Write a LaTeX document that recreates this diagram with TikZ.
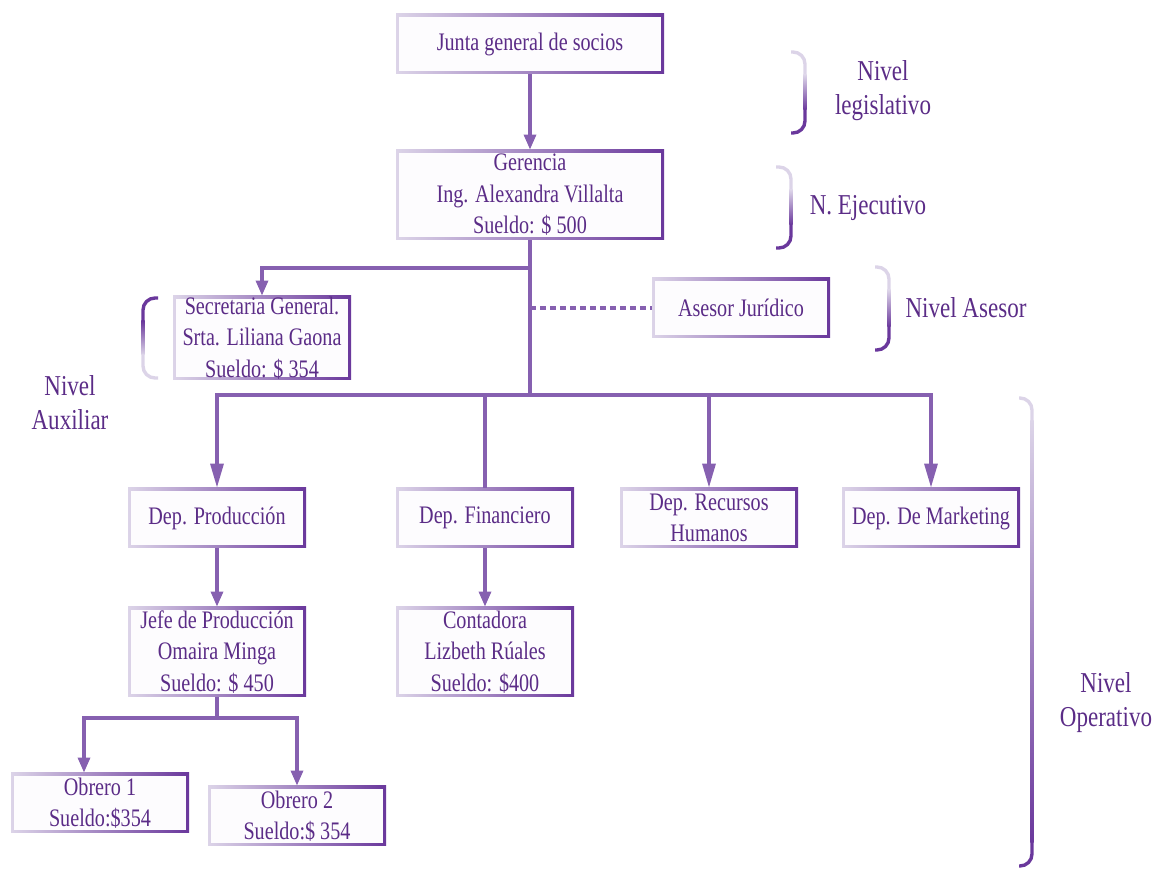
\documentclass[tikz,border=0pt]{standalone}
\usepackage{fontspec}
\setmainfont{Liberation Serif}[FakeStretch=0.8]
\definecolor{orgText}{HTML}{5B2C87}
\definecolor{orgLine}{HTML}{8660B0}
\definecolor{orgLight}{HTML}{DCD4E8}
\definecolor{orgDark}{HTML}{6A389C}
\definecolor{orgFill}{HTML}{FDFCFE}
\usetikzlibrary{arrows.meta}

% level brace: tip x, spine x, top y, bottom y, top colour, bottom colour
\newcommand{\nivelbrace}[6]{%
  \draw[brace, #5] (#1,#3) -- (#2,#3) -- (#2,#3+24);
  \shade[top color=#5, bottom color=#6] (#2-1.7,#3+23) rectangle (#2+1.7,#4-23);
  \draw[brace, #6] (#2,#4-24) -- (#2,#4) -- (#1,#4);
}

\begin{document}
\begin{tikzpicture}[x=0.5pt, y=-0.5pt,
  orgbox/.style={rectangle, minimum width=89pt, minimum height=30pt, inner sep=0pt,
    align=center, text=orgText, font=\fontsize{12.6}{15.7}\selectfont,
    path picture={
      \shade[left color=orgLight, right color=orgDark]
        (path picture bounding box.south west) rectangle (path picture bounding box.north east);
      \fill[orgFill] ([shift={(1.4pt,1.4pt)}]path picture bounding box.south west)
        rectangle ([shift={(-1.5pt,-1.4pt)}]path picture bounding box.north east);
    }},
  widebox/.style={orgbox, minimum width=134pt},
  tallbox/.style={minimum height=45pt},
  nivel/.style={align=center, text=orgText, font=\fontsize{14.4}{17}\selectfont},
  conn/.style={orgLine, line width=1.6pt},
  arr/.style={conn, -{Triangle[length=7.5pt, width=6pt]}},
  bigarr/.style={conn, -{Triangle[length=12pt, width=6.5pt]}},
  brace/.style={line width=1.7pt, rounded corners=6pt}]
  \useasboundingbox (0,0) rectangle (1158,870);

  % Top management
  \node[widebox] (junta) at (530,44) {Junta general de socios};
  \node[widebox, tallbox] (ger) at (530,195) {Gerencia\\Ing. Alexandra Villalta\\Sueldo: \$ 500};

  % Staff and advisory
  \node[orgbox, minimum height=42pt] (secr) at (262,338) {Secretaria General.\\Srta. Liliana Gaona\\Sueldo: \$ 354};
  \node[orgbox] (ases) at (741,308) {Asesor Jurídico};

  % Departments
  \node[orgbox] (dprod) at (217,518) {Dep. Producción};
  \node[orgbox] (dfin) at (485,518) {Dep. Financiero};
  \node[orgbox] (drrhh) at (709,518) {Dep. Recursos\\Humanos};
  \node[orgbox] (dmark) at (931,518) {Dep. De Marketing};

  % Staff under departments
  \node[orgbox, tallbox] (jefe) at (217,652) {Jefe de Producción\\Omaira Minga\\Sueldo: \$ 450};
  \node[orgbox, tallbox] (conta) at (485,652) {Contadora\\Lizbeth Rúales\\Sueldo: \$400};
  \node[orgbox] (obr1) at (100,803) {Obrero 1\\Sueldo:\$354};
  \node[orgbox] (obr2) at (297,816) {Obrero 2\\Sueldo:\$ 354};

  % Connectors
  \coordinate (sbus) at (530,268);
  \coordinate (dbus) at (530,395);
  \coordinate (jbus) at (217,718);
  \draw[arr] (junta) -- (ger);
  \draw[conn] (ger) -- (dbus);
  \draw[arr] (sbus) -| (secr);
  \draw[conn, dashed, dash pattern=on 3pt off 2pt] (ger.south |- ases) -- (ases);
  \draw[bigarr] (dbus) -| (dprod);
  \draw[conn] (dbus) -| (dfin);
  \draw[bigarr] (dbus) -| (drrhh);
  \draw[bigarr] (dbus) -| (dmark);
  \draw[arr] (dprod) -- (jefe);
  \draw[arr] (dfin) -- (conta);
  \draw[conn] (jefe) -- (jbus);
  \draw[arr] (jbus) -| ([xshift=-8pt]obr1.north);
  \draw[arr] (jbus) -| (obr2);

  % Level braces
  \nivelbrace{791}{805}{52}{133}{orgLight}{orgDark}
  \nivelbrace{776}{791}{167}{248}{orgLight}{orgDark}
  \nivelbrace{875}{889}{267}{350}{orgLight}{orgDark}
  \nivelbrace{158}{143}{298}{378}{orgDark}{orgLight}
  \nivelbrace{1019}{1032}{398}{866}{orgLight}{orgDark}

  % Level labels
  \node[nivel] (nlegis) at (883,91) {Nivel\\legislativo};
  \node[nivel] (nejec) at (868,208) {N. Ejecutivo};
  \node[nivel] (nases) at (966,308) {Nivel Asesor};
  \node[nivel] (naux) at (70,403) {Nivel\\Auxiliar};
  \node[nivel] (noper) at (1106,703) {Nivel\\Operativo};
\end{tikzpicture}
\end{document}
